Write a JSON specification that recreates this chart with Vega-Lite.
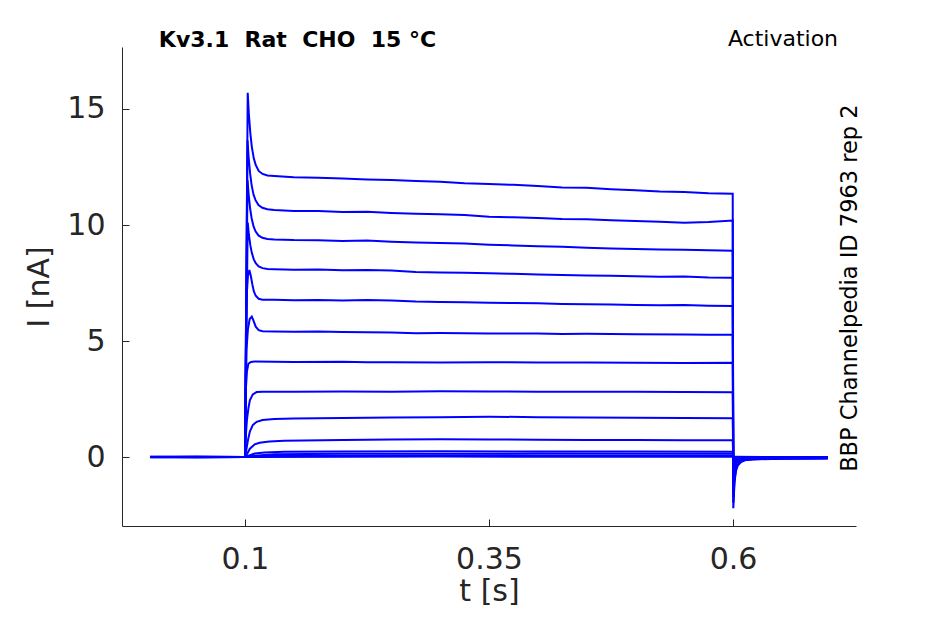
{
  "$schema": "https://vega.github.io/schema/vega-lite/v6.json",
  "width": 734,
  "height": 479,
  "autosize": {"type": "none"},
  "padding": {"left": 122, "top": 47, "right": 89, "bottom": 98},
  "background": "white",
  "config": {"view": {"stroke": null}, "font": "DejaVu Sans"},
  "resolve": {"axis": {"x": "independent", "y": "independent"}},
  "data": {"values": [
        {"s":1,"t":0.003,"i":0.01},{"s":1,"t":0.05,"i":-0.01},{"s":1,"t":0.1,"i":0},{"s":1,"t":0.1028,"i":15.7},{"s":1,"t":0.104,"i":14.77},{"s":1,"t":0.1055,"i":13.95},{"s":1,"t":0.107,"i":13.37},{"s":1,"t":0.109,"i":12.87},{"s":1,"t":0.111,"i":12.59},{"s":1,"t":0.114,"i":12.33},{"s":1,"t":0.118,"i":12.2},{"s":1,"t":0.123,"i":12.13},{"s":1,"t":0.13,"i":12.11},{"s":1,"t":0.15,"i":12.06},{"s":1,"t":0.175,"i":12.04},{"s":1,"t":0.2,"i":12.0},{"s":1,"t":0.225,"i":11.96},{"s":1,"t":0.25,"i":11.94},{"s":1,"t":0.275,"i":11.9},{"s":1,"t":0.3,"i":11.86},{"s":1,"t":0.325,"i":11.8},{"s":1,"t":0.35,"i":11.77},{"s":1,"t":0.375,"i":11.73},{"s":1,"t":0.4,"i":11.68},{"s":1,"t":0.425,"i":11.62},{"s":1,"t":0.45,"i":11.6},{"s":1,"t":0.475,"i":11.54},{"s":1,"t":0.5,"i":11.5},{"s":1,"t":0.525,"i":11.44},{"s":1,"t":0.55,"i":11.42},{"s":1,"t":0.575,"i":11.37},{"s":1,"t":0.5997,"i":11.35},{"s":1,"t":0.6003,"i":-2.2},{"s":1,"t":0.6015,"i":-1.1},{"s":1,"t":0.603,"i":-0.6},{"s":1,"t":0.605,"i":-0.35},{"s":1,"t":0.608,"i":-0.22},{"s":1,"t":0.612,"i":-0.14},{"s":1,"t":0.62,"i":-0.1},{"s":1,"t":0.65,"i":-0.07},{"s":1,"t":0.697,"i":-0.06},

        {"s":2,"t":0.003,"i":0},{"s":2,"t":0.05,"i":0.01},{"s":2,"t":0.1,"i":0},{"s":2,"t":0.1026,"i":13.65},{"s":2,"t":0.1038,"i":12.88},{"s":2,"t":0.1053,"i":12.2},{"s":2,"t":0.1068,"i":11.72},{"s":2,"t":0.1088,"i":11.3},{"s":2,"t":0.1108,"i":11.07},{"s":2,"t":0.1138,"i":10.86},{"s":2,"t":0.1178,"i":10.74},{"s":2,"t":0.123,"i":10.68},{"s":2,"t":0.13,"i":10.65},{"s":2,"t":0.15,"i":10.6},{"s":2,"t":0.175,"i":10.6},{"s":2,"t":0.2,"i":10.56},{"s":2,"t":0.225,"i":10.57},{"s":2,"t":0.25,"i":10.52},{"s":2,"t":0.275,"i":10.49},{"s":2,"t":0.3,"i":10.46},{"s":2,"t":0.325,"i":10.43},{"s":2,"t":0.35,"i":10.36},{"s":2,"t":0.375,"i":10.33},{"s":2,"t":0.4,"i":10.3},{"s":2,"t":0.425,"i":10.26},{"s":2,"t":0.45,"i":10.25},{"s":2,"t":0.475,"i":10.2},{"s":2,"t":0.5,"i":10.17},{"s":2,"t":0.525,"i":10.14},{"s":2,"t":0.55,"i":10.1},{"s":2,"t":0.575,"i":10.13},{"s":2,"t":0.5997,"i":10.19},{"s":2,"t":0.6003,"i":-1.97},{"s":2,"t":0.6015,"i":-0.99},{"s":2,"t":0.603,"i":-0.54},{"s":2,"t":0.605,"i":-0.32},{"s":2,"t":0.608,"i":-0.2},{"s":2,"t":0.612,"i":-0.13},{"s":2,"t":0.62,"i":-0.09},{"s":2,"t":0.65,"i":-0.06},{"s":2,"t":0.697,"i":-0.05},

        {"s":3,"t":0.003,"i":-0.01},{"s":3,"t":0.05,"i":0},{"s":3,"t":0.1,"i":0},{"s":3,"t":0.1026,"i":11.95},{"s":3,"t":0.1038,"i":11.29},{"s":3,"t":0.1053,"i":10.7},{"s":3,"t":0.1068,"i":10.29},{"s":3,"t":0.1088,"i":9.94},{"s":3,"t":0.1108,"i":9.73},{"s":3,"t":0.1138,"i":9.55},{"s":3,"t":0.1178,"i":9.45},{"s":3,"t":0.123,"i":9.4},{"s":3,"t":0.13,"i":9.38},{"s":3,"t":0.15,"i":9.35},{"s":3,"t":0.175,"i":9.34},{"s":3,"t":0.2,"i":9.31},{"s":3,"t":0.225,"i":9.33},{"s":3,"t":0.25,"i":9.28},{"s":3,"t":0.275,"i":9.25},{"s":3,"t":0.3,"i":9.22},{"s":3,"t":0.325,"i":9.2},{"s":3,"t":0.35,"i":9.15},{"s":3,"t":0.375,"i":9.12},{"s":3,"t":0.4,"i":9.08},{"s":3,"t":0.425,"i":9.06},{"s":3,"t":0.45,"i":9.02},{"s":3,"t":0.475,"i":8.99},{"s":3,"t":0.5,"i":8.97},{"s":3,"t":0.525,"i":8.94},{"s":3,"t":0.55,"i":8.93},{"s":3,"t":0.575,"i":8.91},{"s":3,"t":0.5997,"i":8.89},{"s":3,"t":0.6003,"i":-1.72},{"s":3,"t":0.6015,"i":-0.86},{"s":3,"t":0.603,"i":-0.47},{"s":3,"t":0.605,"i":-0.27},{"s":3,"t":0.608,"i":-0.17},{"s":3,"t":0.612,"i":-0.11},{"s":3,"t":0.62,"i":-0.08},{"s":3,"t":0.65,"i":-0.06},{"s":3,"t":0.697,"i":-0.05},

        {"s":4,"t":0.003,"i":0},{"s":4,"t":0.05,"i":-0.01},{"s":4,"t":0.1,"i":0},{"s":4,"t":0.1028,"i":10.1},{"s":4,"t":0.104,"i":9.58},{"s":4,"t":0.1055,"i":9.12},{"s":4,"t":0.107,"i":8.8},{"s":4,"t":0.109,"i":8.52},{"s":4,"t":0.111,"i":8.36},{"s":4,"t":0.114,"i":8.22},{"s":4,"t":0.118,"i":8.14},{"s":4,"t":0.123,"i":8.1},{"s":4,"t":0.13,"i":8.09},{"s":4,"t":0.15,"i":8.07},{"s":4,"t":0.175,"i":8.08},{"s":4,"t":0.2,"i":8.05},{"s":4,"t":0.225,"i":8.06},{"s":4,"t":0.25,"i":8.04},{"s":4,"t":0.275,"i":7.97},{"s":4,"t":0.3,"i":7.95},{"s":4,"t":0.325,"i":7.94},{"s":4,"t":0.35,"i":7.92},{"s":4,"t":0.375,"i":7.9},{"s":4,"t":0.4,"i":7.87},{"s":4,"t":0.425,"i":7.85},{"s":4,"t":0.45,"i":7.82},{"s":4,"t":0.475,"i":7.81},{"s":4,"t":0.5,"i":7.79},{"s":4,"t":0.525,"i":7.77},{"s":4,"t":0.55,"i":7.78},{"s":4,"t":0.575,"i":7.74},{"s":4,"t":0.5997,"i":7.73},{"s":4,"t":0.6003,"i":-1.5},{"s":4,"t":0.6015,"i":-0.75},{"s":4,"t":0.603,"i":-0.41},{"s":4,"t":0.605,"i":-0.24},{"s":4,"t":0.608,"i":-0.15},{"s":4,"t":0.612,"i":-0.1},{"s":4,"t":0.62,"i":-0.07},{"s":4,"t":0.65,"i":-0.05},{"s":4,"t":0.697,"i":-0.04},

        {"s":5,"t":0.003,"i":0.01},{"s":5,"t":0.05,"i":0},{"s":5,"t":0.1,"i":0},{"s":5,"t":0.1015,"i":6.8},{"s":5,"t":0.103,"i":7.8},{"s":5,"t":0.1045,"i":8.06},{"s":5,"t":0.106,"i":7.8},{"s":5,"t":0.1075,"i":7.45},{"s":5,"t":0.109,"i":7.15},{"s":5,"t":0.111,"i":6.95},{"s":5,"t":0.114,"i":6.82},{"s":5,"t":0.118,"i":6.78},{"s":5,"t":0.13,"i":6.78},{"s":5,"t":0.15,"i":6.76},{"s":5,"t":0.175,"i":6.77},{"s":5,"t":0.2,"i":6.75},{"s":5,"t":0.225,"i":6.77},{"s":5,"t":0.25,"i":6.75},{"s":5,"t":0.275,"i":6.7},{"s":5,"t":0.3,"i":6.68},{"s":5,"t":0.325,"i":6.67},{"s":5,"t":0.35,"i":6.65},{"s":5,"t":0.375,"i":6.64},{"s":5,"t":0.4,"i":6.63},{"s":5,"t":0.425,"i":6.6},{"s":5,"t":0.45,"i":6.58},{"s":5,"t":0.475,"i":6.57},{"s":5,"t":0.5,"i":6.55},{"s":5,"t":0.525,"i":6.54},{"s":5,"t":0.55,"i":6.55},{"s":5,"t":0.575,"i":6.52},{"s":5,"t":0.5997,"i":6.51},{"s":5,"t":0.6003,"i":-1.26},{"s":5,"t":0.6015,"i":-0.63},{"s":5,"t":0.603,"i":-0.34},{"s":5,"t":0.605,"i":-0.2},{"s":5,"t":0.608,"i":-0.13},{"s":5,"t":0.612,"i":-0.08},{"s":5,"t":0.62,"i":-0.06},{"s":5,"t":0.65,"i":-0.04},{"s":5,"t":0.697,"i":-0.04},

        {"s":6,"t":0.003,"i":0},{"s":6,"t":0.05,"i":0.01},{"s":6,"t":0.1,"i":0},{"s":6,"t":0.1015,"i":4.6},{"s":6,"t":0.103,"i":5.5},{"s":6,"t":0.1048,"i":5.95},{"s":6,"t":0.107,"i":6.05},{"s":6,"t":0.109,"i":5.85},{"s":6,"t":0.111,"i":5.62},{"s":6,"t":0.114,"i":5.47},{"s":6,"t":0.118,"i":5.42},{"s":6,"t":0.13,"i":5.41},{"s":6,"t":0.15,"i":5.4},{"s":6,"t":0.175,"i":5.41},{"s":6,"t":0.2,"i":5.39},{"s":6,"t":0.25,"i":5.37},{"s":6,"t":0.275,"i":5.34},{"s":6,"t":0.3,"i":5.35},{"s":6,"t":0.35,"i":5.33},{"s":6,"t":0.4,"i":5.32},{"s":6,"t":0.425,"i":5.3},{"s":6,"t":0.45,"i":5.31},{"s":6,"t":0.5,"i":5.29},{"s":6,"t":0.55,"i":5.28},{"s":6,"t":0.575,"i":5.27},{"s":6,"t":0.5997,"i":5.27},{"s":6,"t":0.6003,"i":-1.02},{"s":6,"t":0.6015,"i":-0.51},{"s":6,"t":0.603,"i":-0.28},{"s":6,"t":0.605,"i":-0.16},{"s":6,"t":0.608,"i":-0.1},{"s":6,"t":0.612,"i":-0.07},{"s":6,"t":0.62,"i":-0.05},{"s":6,"t":0.65,"i":-0.04},{"s":6,"t":0.697,"i":-0.03},

        {"s":7,"t":0.003,"i":-0.01},{"s":7,"t":0.05,"i":0},{"s":7,"t":0.1,"i":0},{"s":7,"t":0.101,"i":3.0},{"s":7,"t":0.102,"i":3.7},{"s":7,"t":0.1035,"i":4.02},{"s":7,"t":0.106,"i":4.1},{"s":7,"t":0.11,"i":4.12},{"s":7,"t":0.13,"i":4.11},{"s":7,"t":0.15,"i":4.1},{"s":7,"t":0.2,"i":4.11},{"s":7,"t":0.225,"i":4.09},{"s":7,"t":0.25,"i":4.09},{"s":7,"t":0.3,"i":4.08},{"s":7,"t":0.35,"i":4.09},{"s":7,"t":0.4,"i":4.07},{"s":7,"t":0.45,"i":4.08},{"s":7,"t":0.5,"i":4.06},{"s":7,"t":0.55,"i":4.05},{"s":7,"t":0.5997,"i":4.06},{"s":7,"t":0.6003,"i":-0.79},{"s":7,"t":0.6015,"i":-0.4},{"s":7,"t":0.603,"i":-0.22},{"s":7,"t":0.605,"i":-0.13},{"s":7,"t":0.608,"i":-0.08},{"s":7,"t":0.612,"i":-0.05},{"s":7,"t":0.62,"i":-0.04},{"s":7,"t":0.65,"i":-0.03},{"s":7,"t":0.697,"i":-0.03},

        {"s":8,"t":0.003,"i":0},{"s":8,"t":0.05,"i":0},{"s":8,"t":0.1,"i":0},{"s":8,"t":0.101,"i":1.0},{"s":8,"t":0.102,"i":1.6},{"s":8,"t":0.1035,"i":2.1},{"s":8,"t":0.105,"i":2.45},{"s":8,"t":0.108,"i":2.7},{"s":8,"t":0.112,"i":2.8},{"s":8,"t":0.118,"i":2.82},{"s":8,"t":0.15,"i":2.81},{"s":8,"t":0.2,"i":2.83},{"s":8,"t":0.25,"i":2.82},{"s":8,"t":0.3,"i":2.84},{"s":8,"t":0.35,"i":2.83},{"s":8,"t":0.4,"i":2.82},{"s":8,"t":0.45,"i":2.81},{"s":8,"t":0.5,"i":2.81},{"s":8,"t":0.55,"i":2.8},{"s":8,"t":0.5997,"i":2.79},{"s":8,"t":0.6003,"i":-0.54},{"s":8,"t":0.6015,"i":-0.27},{"s":8,"t":0.603,"i":-0.15},{"s":8,"t":0.605,"i":-0.09},{"s":8,"t":0.608,"i":-0.06},{"s":8,"t":0.612,"i":-0.04},{"s":8,"t":0.62,"i":-0.03},{"s":8,"t":0.65,"i":-0.03},{"s":8,"t":0.697,"i":-0.02},

        {"s":9,"t":0.003,"i":0},{"s":9,"t":0.05,"i":0.01},{"s":9,"t":0.1,"i":0},{"s":9,"t":0.1015,"i":0.35},{"s":9,"t":0.103,"i":0.72},{"s":9,"t":0.105,"i":1.1},{"s":9,"t":0.108,"i":1.38},{"s":9,"t":0.112,"i":1.52},{"s":9,"t":0.118,"i":1.6},{"s":9,"t":0.13,"i":1.64},{"s":9,"t":0.15,"i":1.66},{"s":9,"t":0.2,"i":1.68},{"s":9,"t":0.25,"i":1.7},{"s":9,"t":0.3,"i":1.72},{"s":9,"t":0.35,"i":1.74},{"s":9,"t":0.4,"i":1.72},{"s":9,"t":0.45,"i":1.71},{"s":9,"t":0.5,"i":1.69},{"s":9,"t":0.55,"i":1.68},{"s":9,"t":0.5997,"i":1.67},{"s":9,"t":0.6003,"i":-0.32},{"s":9,"t":0.6015,"i":-0.16},{"s":9,"t":0.603,"i":-0.09},{"s":9,"t":0.605,"i":-0.05},{"s":9,"t":0.608,"i":-0.04},{"s":9,"t":0.612,"i":-0.03},{"s":9,"t":0.62,"i":-0.02},{"s":9,"t":0.65,"i":-0.02},{"s":9,"t":0.697,"i":-0.02},

        {"s":10,"t":0.003,"i":0},{"s":10,"t":0.05,"i":0},{"s":10,"t":0.1,"i":0},{"s":10,"t":0.102,"i":0.12},{"s":10,"t":0.105,"i":0.36},{"s":10,"t":0.11,"i":0.55},{"s":10,"t":0.115,"i":0.62},{"s":10,"t":0.125,"i":0.67},{"s":10,"t":0.14,"i":0.7},{"s":10,"t":0.2,"i":0.74},{"s":10,"t":0.25,"i":0.76},{"s":10,"t":0.3,"i":0.77},{"s":10,"t":0.35,"i":0.76},{"s":10,"t":0.4,"i":0.75},{"s":10,"t":0.45,"i":0.74},{"s":10,"t":0.5,"i":0.74},{"s":10,"t":0.55,"i":0.73},{"s":10,"t":0.5997,"i":0.73},{"s":10,"t":0.6003,"i":-0.14},{"s":10,"t":0.6015,"i":-0.07},{"s":10,"t":0.603,"i":-0.04},{"s":10,"t":0.605,"i":-0.03},{"s":10,"t":0.62,"i":-0.02},{"s":10,"t":0.697,"i":-0.01},

        {"s":11,"t":0.003,"i":0},{"s":11,"t":0.05,"i":-0.01},{"s":11,"t":0.1,"i":0},{"s":11,"t":0.105,"i":0.08},{"s":11,"t":0.11,"i":0.15},{"s":11,"t":0.12,"i":0.2},{"s":11,"t":0.14,"i":0.23},{"s":11,"t":0.2,"i":0.24},{"s":11,"t":0.3,"i":0.25},{"s":11,"t":0.4,"i":0.24},{"s":11,"t":0.5,"i":0.24},{"s":11,"t":0.5997,"i":0.23},{"s":11,"t":0.6003,"i":-0.05},{"s":11,"t":0.605,"i":-0.02},{"s":11,"t":0.697,"i":-0.01},

        {"s":12,"t":0.003,"i":0},{"s":12,"t":0.05,"i":0},{"s":12,"t":0.1,"i":0},{"s":12,"t":0.11,"i":0.06},{"s":12,"t":0.13,"i":0.12},{"s":12,"t":0.2,"i":0.14},{"s":12,"t":0.4,"i":0.15},{"s":12,"t":0.5997,"i":0.14},{"s":12,"t":0.6003,"i":-0.03},{"s":12,"t":0.697,"i":-0.01},

        {"s":13,"t":0.003,"i":0},{"s":13,"t":0.1,"i":0},{"s":13,"t":0.12,"i":0.05},{"s":13,"t":0.3,"i":0.07},{"s":13,"t":0.5997,"i":0.06},{"s":13,"t":0.6003,"i":-0.02},{"s":13,"t":0.697,"i":-0.01},

        {"s":14,"t":0.003,"i":0},{"s":14,"t":0.1,"i":0},{"s":14,"t":0.3,"i":0.02},{"s":14,"t":0.5997,"i":0.01},{"s":14,"t":0.697,"i":0}
  ]},
  "layer": [
    {
      "mark": {"type": "line", "color": "#0000ff", "strokeWidth": 2},
      "encoding": {
        "x": {
          "field": "t", "type": "quantitative",
          "scale": {"domain": [-0.026, 0.726], "nice": false, "zero": false},
          "axis": {
            "orient": "bottom",
            "values": [0.1, 0.35, 0.6], "format": ".2~f", "title": "t [s]", "grid": false,
            "ticks": false, "labelPadding": 18, "labelFlush": false,
            "labelFont": "DejaVu Sans", "titleFont": "DejaVu Sans",
            "labelFontSize": 30, "titleFontSize": 30, "titleFontWeight": "normal",
            "labelColor": "#262626", "titleColor": "#262626",
            "domainColor": "#262626", "titlePadding": 2
          }
        },
        "y": {
          "field": "i", "type": "quantitative",
          "scale": {"domain": [-2.97, 17.67], "nice": false, "zero": false},
          "axis": {
            "orient": "left",
            "values": [0, 5, 10, 15], "format": "~g", "title": "I [nA]", "grid": false,
            "ticks": false, "labelPadding": 17, "labelFlush": false,
            "labelFont": "DejaVu Sans", "titleFont": "DejaVu Sans",
            "labelFontSize": 30, "titleFontSize": 30, "titleFontWeight": "normal",
            "labelColor": "#262626", "titleColor": "#262626",
            "domainColor": "#262626", "titlePadding": 12
          }
        },
        "detail": {"field": "s", "type": "nominal"}
      }
    },
    {
      "mark": {"type": "line", "opacity": 0, "strokeOpacity": 0},
      "encoding": {
        "x": {"field": "t", "type": "quantitative",
          "axis": {"orient": "bottom", "offset": -7, "values": [0.1, 0.35, 0.6], "domain": false, "labels": false, "ticks": true, "tickSize": 7, "tickColor": "#262626", "tickWidth": 1, "grid": false, "title": null}},
        "y": {"field": "i", "type": "quantitative",
          "axis": {"orient": "left", "offset": -7, "values": [0, 5, 10, 15], "domain": false, "labels": false, "ticks": true, "tickSize": 7, "tickColor": "#262626", "tickWidth": 1, "grid": false, "title": null}},
        "detail": {"field": "s", "type": "nominal"}
      }
    },
    {
      "data": {"values": [{}]},
      "mark": {"type": "text", "text": "Kv3.1\u00a0\u00a0Rat\u00a0\u00a0CHO\u00a0\u00a015\u00a0°C", "font": "DejaVu Sans", "fontWeight": "bold", "fontSize": 22, "align": "center", "baseline": "alphabetic", "color": "black"},
      "encoding": {"x": {"datum": 0.1538, "type": "quantitative", "axis": null}, "y": {"datum": 17.68, "type": "quantitative", "axis": null}}
    },
    {
      "data": {"values": [{}]},
      "mark": {"type": "text", "text": "Activation", "font": "DejaVu Sans", "fontSize": 22, "align": "right", "baseline": "alphabetic", "color": "black"},
      "encoding": {"x": {"datum": 0.7076, "type": "quantitative", "axis": null}, "y": {"datum": 17.7, "type": "quantitative", "axis": null}}
    },
    {
      "data": {"values": [{}]},
      "mark": {"type": "text", "text": "BBP Channelpedia ID 7963 rep 2", "font": "DejaVu Sans", "fontSize": 22.5, "angle": 270, "align": "center", "baseline": "alphabetic", "color": "black"},
      "encoding": {"x": {"datum": 0.727, "type": "quantitative", "axis": null}, "y": {"datum": 7.28, "type": "quantitative", "axis": null}}
    }
  ]
}
